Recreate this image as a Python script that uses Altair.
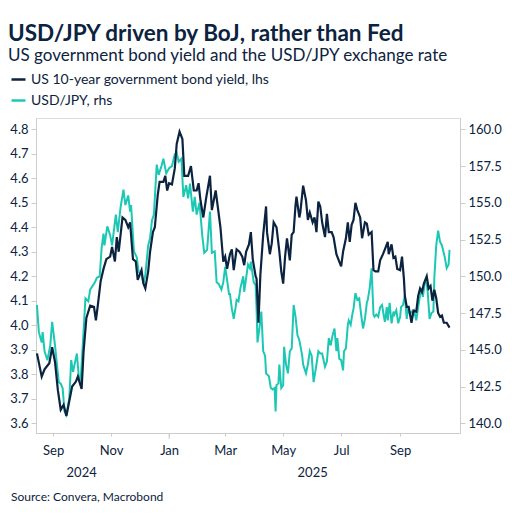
import altair as alt
import pandas as pd

# ---------------- data ----------------
SERIES = ["US 10-year government bond yield, lhs", "USD/JPY, rhs"]

yield_dates = [
    "2024-08-15", "2024-08-20", "2024-08-23", "2024-08-28", "2024-08-31",
    "2024-09-03", "2024-09-06", "2024-09-09", "2024-09-12", "2024-09-15", "2024-09-19", "2024-09-21", "2024-09-25", "2024-09-27",
    "2024-10-01", "2024-10-03", "2024-10-06", "2024-10-10", "2024-10-14", "2024-10-16", "2024-10-18", "2024-10-21", "2024-10-24", "2024-10-27", "2024-10-31",
    "2024-11-02", "2024-11-05", "2024-11-07", "2024-11-09", "2024-11-13", "2024-11-16", "2024-11-19", "2024-11-21", "2024-11-24", "2024-11-27", "2024-11-29",
    "2024-12-03", "2024-12-05", "2024-12-07", "2024-12-10", "2024-12-12", "2024-12-15", "2024-12-17", "2024-12-20", "2024-12-22", "2024-12-26", "2024-12-28", "2024-12-30",
    "2025-01-01", "2025-01-04", "2025-01-07", "2025-01-09", "2025-01-12", "2025-01-15", "2025-01-17", "2025-01-21", "2025-01-24", "2025-01-27", "2025-01-30",
    "2025-02-01", "2025-02-03", "2025-02-06", "2025-02-09", "2025-02-13", "2025-02-15", "2025-02-19", "2025-02-21", "2025-02-24", "2025-02-27",
    "2025-03-01", "2025-03-03", "2025-03-06", "2025-03-08", "2025-03-10", "2025-03-13", "2025-03-16", "2025-03-19", "2025-03-21", "2025-03-23", "2025-03-26", "2025-03-28", "2025-03-30",
    "2025-04-02", "2025-04-03", "2025-04-05", "2025-04-07", "2025-04-10", "2025-04-13", "2025-04-14", "2025-04-17", "2025-04-19", "2025-04-21", "2025-04-24", "2025-04-27", "2025-04-29",
    "2025-05-01", "2025-05-03", "2025-05-05", "2025-05-08", "2025-05-10", "2025-05-12", "2025-05-14", "2025-05-15", "2025-05-18", "2025-05-19", "2025-05-22", "2025-05-25", "2025-05-27", "2025-05-29",
    "2025-06-01", "2025-06-03", "2025-06-05", "2025-06-07", "2025-06-09", "2025-06-11", "2025-06-14", "2025-06-16", "2025-06-18", "2025-06-21", "2025-06-23", "2025-06-26", "2025-06-29",
    "2025-07-01", "2025-07-03", "2025-07-06", "2025-07-08", "2025-07-10", "2025-07-12", "2025-07-14", "2025-07-16", "2025-07-18", "2025-07-21", "2025-07-23", "2025-07-26", "2025-07-28", "2025-07-30",
    "2025-08-02", "2025-08-04", "2025-08-06", "2025-08-09", "2025-08-11", "2025-08-14", "2025-08-17", "2025-08-19", "2025-08-20", "2025-08-23", "2025-08-25", "2025-08-27", "2025-08-29",
    "2025-09-01", "2025-09-03", "2025-09-05", "2025-09-06", "2025-09-08", "2025-09-10", "2025-09-13", "2025-09-15", "2025-09-18", "2025-09-20", "2025-09-22", "2025-09-24", "2025-09-26", "2025-09-29",
    "2025-10-01", "2025-10-03", "2025-10-05", "2025-10-07", "2025-10-09", "2025-10-11", "2025-10-13", "2025-10-15", "2025-10-17", "2025-10-20", "2025-10-23",
]
yield_values = [
    3.885, 3.79, 3.82, 3.845, 3.91,
    3.85, 3.735, 3.655, 3.675, 3.63, 3.71, 3.75, 3.77, 3.79,
    3.74, 3.89, 4.03, 4.08, 4.075, 4.02, 4.08, 4.18, 4.23, 4.27, 4.28,
    4.32, 4.26, 4.36, 4.30, 4.44, 4.43, 4.40, 4.42, 4.27, 4.26, 4.185,
    4.225, 4.17, 4.15, 4.22, 4.30, 4.38, 4.40, 4.53, 4.585, 4.585, 4.61, 4.55,
    4.58, 4.575, 4.64, 4.74, 4.79, 4.76, 4.61, 4.61, 4.65, 4.55, 4.55,
    4.58, 4.51, 4.44, 4.52, 4.61, 4.47, 4.55, 4.49, 4.40, 4.26,
    4.28, 4.23, 4.29, 4.31, 4.225, 4.31, 4.30, 4.28, 4.245, 4.30, 4.33, 4.38, 4.27,
    4.20, 4.19, 4.01, 4.205, 4.37, 4.485, 4.38, 4.29, 4.335, 4.42, 4.40, 4.30, 4.22,
    4.17, 4.28, 4.355, 4.265, 4.37, 4.38, 4.49, 4.525, 4.44, 4.46, 4.57, 4.51, 4.43, 4.46,
    4.42, 4.44, 4.38, 4.505, 4.485, 4.42, 4.36, 4.455, 4.38, 4.38, 4.36, 4.29, 4.26,
    4.24, 4.30, 4.355, 4.42, 4.34, 4.41, 4.43, 4.50, 4.47, 4.44, 4.355, 4.42, 4.415, 4.37,
    4.38, 4.225, 4.22, 4.22, 4.265, 4.29, 4.32, 4.34, 4.29, 4.33, 4.275, 4.28, 4.23,
    4.225, 4.28, 4.19, 4.12, 4.075, 4.075, 4.01, 4.06, 4.055, 4.12, 4.15, 4.135, 4.17, 4.20,
    4.15, 4.16, 4.10, 4.145, 4.11, 4.05, 4.035, 4.04, 4.01, 4.01, 3.99,
]

usdjpy_dates = [
    "2024-08-15", "2024-08-17", "2024-08-20", "2024-08-21", "2024-08-23", "2024-08-26", "2024-08-29", "2024-08-31",
    "2024-09-03", "2024-09-05", "2024-09-07", "2024-09-09", "2024-09-11", "2024-09-13", "2024-09-15", "2024-09-18", "2024-09-20", "2024-09-22", "2024-09-26", "2024-09-28", "2024-09-30",
    "2024-10-03", "2024-10-05", "2024-10-08", "2024-10-10", "2024-10-12", "2024-10-15", "2024-10-17", "2024-10-20", "2024-10-22", "2024-10-24", "2024-10-25", "2024-10-28", "2024-10-31",
    "2024-11-02", "2024-11-06", "2024-11-08", "2024-11-11", "2024-11-14", "2024-11-16", "2024-11-19", "2024-11-21", "2024-11-22", "2024-11-25", "2024-11-28", "2024-11-30",
    "2024-12-03", "2024-12-05", "2024-12-07", "2024-12-10", "2024-12-12", "2024-12-14", "2024-12-16", "2024-12-19", "2024-12-21", "2024-12-24", "2024-12-26", "2024-12-29",
    "2025-01-01", "2025-01-04", "2025-01-07", "2025-01-09", "2025-01-11", "2025-01-14", "2025-01-16", "2025-01-19", "2025-01-21", "2025-01-23", "2025-01-26", "2025-01-28", "2025-01-30",
    "2025-02-02", "2025-02-05", "2025-02-07", "2025-02-10", "2025-02-13", "2025-02-15", "2025-02-18", "2025-02-20", "2025-02-22", "2025-02-25", "2025-02-27",
    "2025-03-01", "2025-03-03", "2025-03-05", "2025-03-06", "2025-03-08", "2025-03-10", "2025-03-12", "2025-03-13", "2025-03-15", "2025-03-17", "2025-03-20", "2025-03-21", "2025-03-25", "2025-03-27", "2025-03-28", "2025-03-31",
    "2025-04-02", "2025-04-03", "2025-04-04", "2025-04-06", "2025-04-08", "2025-04-10", "2025-04-12", "2025-04-13", "2025-04-16", "2025-04-18", "2025-04-20", "2025-04-22", "2025-04-23", "2025-04-24", "2025-04-26", "2025-04-27", "2025-04-29",
    "2025-05-01", "2025-05-02", "2025-05-04", "2025-05-06", "2025-05-08", "2025-05-10", "2025-05-12", "2025-05-14", "2025-05-16", "2025-05-18", "2025-05-21", "2025-05-22", "2025-05-25", "2025-05-27", "2025-05-29", "2025-05-31",
    "2025-06-02", "2025-06-05", "2025-06-07", "2025-06-09", "2025-06-11", "2025-06-14", "2025-06-16", "2025-06-18", "2025-06-20", "2025-06-22", "2025-06-24", "2025-06-26", "2025-06-27", "2025-06-29",
    "2025-07-01", "2025-07-03", "2025-07-04", "2025-07-06", "2025-07-08", "2025-07-09", "2025-07-11", "2025-07-13", "2025-07-14", "2025-07-16", "2025-07-18", "2025-07-20", "2025-07-22", "2025-07-24", "2025-07-26", "2025-07-28", "2025-07-29", "2025-07-31",
    "2025-08-02", "2025-08-04", "2025-08-05", "2025-08-07", "2025-08-09", "2025-08-11", "2025-08-13", "2025-08-15", "2025-08-16", "2025-08-18", "2025-08-19", "2025-08-21", "2025-08-23", "2025-08-25", "2025-08-26", "2025-08-28", "2025-08-30",
    "2025-09-01", "2025-09-02", "2025-09-04", "2025-09-06", "2025-09-08", "2025-09-09", "2025-09-11", "2025-09-13", "2025-09-15", "2025-09-16", "2025-09-18", "2025-09-20", "2025-09-22", "2025-09-23", "2025-09-25", "2025-09-27", "2025-09-29", "2025-09-30",
    "2025-10-02", "2025-10-04", "2025-10-06", "2025-10-07", "2025-10-09", "2025-10-11", "2025-10-13", "2025-10-15", "2025-10-18", "2025-10-20", "2025-10-22", "2025-10-23",
]
usdjpy_values = [
    148.05, 146.2, 145.5, 146.2, 144.9, 144.3, 145.3, 146.9,
    145.3, 144.0, 142.8, 142.7, 142.4, 140.8, 140.55, 141.7, 144.3, 143.5, 144.75, 143.2, 142.95,
    146.2, 148.5, 148.3, 149.1, 149.3, 149.6, 149.9, 150.0, 151.9, 152.9, 152.1, 153.4, 152.8,
    152.1, 154.2, 153.0, 154.7, 155.9, 154.85, 155.5, 154.4, 154.85, 151.7, 151.3, 150.3,
    150.1, 149.5, 150.1, 152.1, 152.6, 153.8, 154.2, 157.6, 156.9, 157.5, 158.0, 157.0,
    157.35, 157.5, 158.3, 158.4, 157.8, 158.0, 155.4, 156.2, 155.3, 156.3, 154.4, 155.4, 154.2,
    155.0, 152.7, 151.6, 151.8, 154.4, 151.6, 151.7, 149.6, 149.5, 149.1, 149.6,
    150.65, 149.75, 148.8, 148.8, 147.8, 147.1, 147.9, 148.4, 148.3, 149.2, 150.0, 148.95, 150.8, 150.55, 151.0, 149.6,
    149.4, 147.8, 145.5, 146.45, 147.6, 144.9, 144.6, 143.4, 143.2, 142.4, 142.3, 142.4, 140.8, 142.6, 142.7, 144.0, 142.4,
    142.6, 145.2, 144.0, 143.4, 144.9, 145.1, 148.05, 147.25, 146.0, 145.65, 144.6, 144.0, 143.4, 144.0, 144.9, 144.6,
    142.8, 144.0, 144.9, 144.75, 144.75, 143.85, 144.2, 145.8, 145.3, 146.0, 146.45, 144.9, 145.8, 144.4,
    144.3, 143.6, 144.9, 145.1, 146.7, 147.0, 146.7, 147.5, 147.8, 148.85, 148.4, 148.5, 147.4, 146.45, 147.1, 148.2, 148.4, 149.2,
    150.55, 147.4, 147.25, 147.4, 147.25, 147.9, 148.05, 147.25, 146.9, 147.9, 147.0, 148.2, 146.8, 147.6, 147.4, 147.7, 146.8,
    147.25, 147.9, 148.05, 148.7, 147.1, 147.7, 147.5, 147.6, 147.4, 147.6, 147.0, 147.9, 148.7, 149.2, 148.6, 149.6, 149.5, 148.95,
    147.1, 147.5, 147.6, 149.9, 152.1, 153.1, 152.35, 152.1, 151.3, 150.55, 150.8, 151.8,
]

yield_ticks = [3.6, 3.7, 3.8, 3.9, 4.0, 4.1, 4.2, 4.3, 4.4, 4.5, 4.6, 4.7, 4.8]
usdjpy_ticks = [140.0, 142.5, 145.0, 147.5, 150.0, 152.5, 155.0, 157.5, 160.0]
month_ticks = ["2024-09-01", "2024-11-01", "2025-01-01", "2025-03-01", "2025-05-01", "2025-07-01", "2025-09-01"]
year_labels = ["2024", "2025"]
year_label_dates = ["2024-10-01", "2025-06-01"]
year_boundary = ["2025-01-01"]
source_text = ["Source: Convera, Macrobond"]

# ---------------- styling ----------------
NAVY = "#0c2340"
TEAL = "#1cc8b3"
GREY = "#cccccc"
FONT = "Lato"
W, H = 424, 315


def dt(s):
    y, m, d = (int(p) for p in s.split("-"))
    return alt.DateTime(year=y, month=m, date=d, utc=True)


df_yield = pd.DataFrame({"date": yield_dates, "value": yield_values, "series": SERIES[0]})
df_jpy = pd.DataFrame({"date": usdjpy_dates, "value": usdjpy_values, "series": SERIES[1]})
df_years = pd.DataFrame({"date": year_label_dates, "label": year_labels})
df_jan = pd.DataFrame({"date": year_boundary})
df_src = pd.DataFrame({"label": source_text})

x_scale = alt.Scale(type="utc", domain=[dt("2024-08-14"), dt("2025-11-03")])
x_axis = alt.Axis(
    values=[dt(s) for s in month_ticks],
    labelExpr="utcFormat(datum.value, '%b')",
    title=None, grid=False,
    domainColor=GREY, tickColor=GREY, tickSize=3,
    labelPadding=8, labelBaseline="top", labelFontSize=13, labelFont=FONT, labelColor=NAVY,
)
x_enc = alt.X("date:T", scale=x_scale, axis=x_axis)

color = alt.Color(
    "series:N",
    scale=alt.Scale(domain=SERIES, range=[NAVY, TEAL]),
    legend=alt.Legend(
        title=None, orient="none", legendX=-26, legendY=-47, direction="vertical",
        symbolType="stroke", symbolSize=196, symbolStrokeWidth=2.5,
        labelFontSize=14, labelFont=FONT, labelColor=NAVY, labelOffset=4,
        labelLimit=400, rowPadding=5,
    ),
)

common_axis = dict(
    title=None, grid=False, format=".1f",
    domainColor=GREY, tickColor=GREY, tickSize=5,
    labelPadding=3, labelFontSize=13, labelFont=FONT, labelColor=NAVY,
)

jpy_line = alt.Chart(df_jpy).mark_line(strokeWidth=2).encode(
    x=x_enc,
    y=alt.Y("value:Q", scale=alt.Scale(domain=[139.34, 160.77], nice=False, zero=False),
            axis=alt.Axis(orient="right", values=usdjpy_ticks, **common_axis)),
    color=color,
)

yield_line = alt.Chart(df_yield).mark_line(strokeWidth=2.2).encode(
    x=x_enc,
    y=alt.Y("value:Q", scale=alt.Scale(domain=[3.56, 4.846], nice=False, zero=False),
            axis=alt.Axis(orient="left", values=yield_ticks, **common_axis)),
    color=color,
)

jan_tick = alt.Chart(df_jan).mark_rule(color=GREY, strokeWidth=1).encode(
    x=alt.X("date:T", scale=x_scale, axis=x_axis),
    y=alt.value(H),
    y2=alt.value(H + 6),
)

years = alt.Chart(df_years).mark_text(
    font=FONT, fontSize=13, color=NAVY, align="center", baseline="alphabetic"
).encode(
    x=alt.X("date:T", scale=x_scale, axis=x_axis),
    y=alt.value(H + 44),
    text="label:N",
)

source = alt.Chart(df_src).mark_text(
    font=FONT, fontSize=12, color=NAVY, align="left", baseline="alphabetic"
).encode(
    x=alt.value(-25),
    y=alt.value(H + 68),
    text="label:N",
)

chart = (
    alt.layer(jpy_line, yield_line, jan_tick, years, source)
    .resolve_scale(y="independent")
    .properties(
        width=W, height=H,
        autosize=alt.AutoSizeParams(type="none"),
        padding={"left": 28, "top": 110, "right": 44, "bottom": 74},
        title=alt.TitleParams(
            text="USD/JPY driven by BoJ, rather than Fed",
            subtitle="US government bond yield and the USD/JPY exchange rate",
            anchor="start", frame="group", dx=-28, offset=7,
            font=FONT, fontSize=22.5, fontWeight="bold", color=NAVY,
            subtitleFont=FONT, subtitleFontSize=17, subtitleColor=NAVY,
            subtitlePadding=3,
        ),
    )
    .configure_view(stroke=None)
    .configure(background="white")
)

chart.save("out.html", embed_options={"renderer": "svg", "actions": False})
